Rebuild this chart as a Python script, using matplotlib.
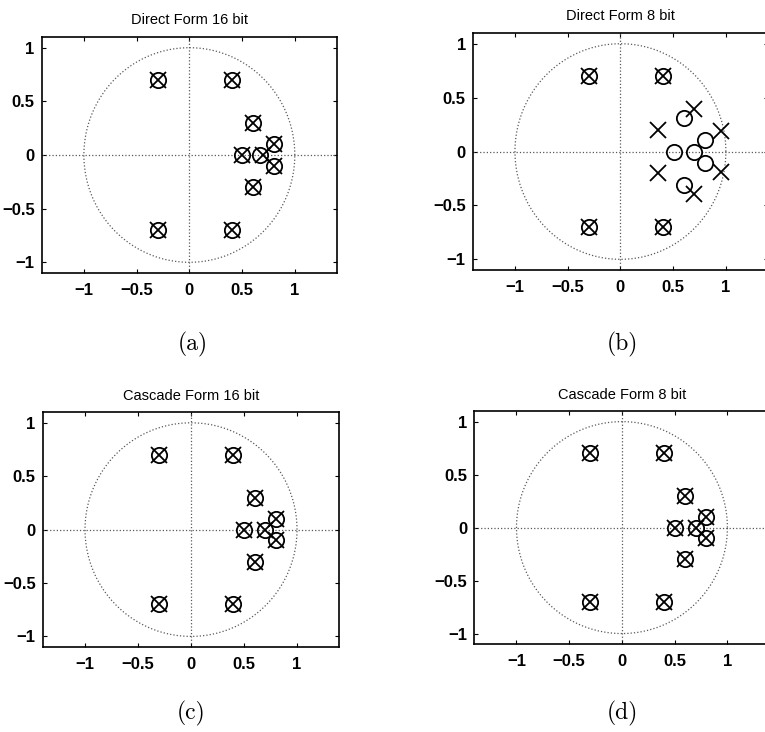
import numpy as np
import matplotlib.pyplot as plt

# zeros / poles (upper half; lower half mirrored)
pair_x = [-0.3, 0.4, 0.6, 0.8]
pair_y = [0.7, 0.7, 0.3, 0.1]
real_pts = [0.5, 0.7]

# direct form 8 bit: poles moved
d8_zero_x = [-0.3, 0.4, 0.6, 0.8]
d8_zero_y = [0.7, 0.7, 0.31, 0.11]
d8_zero_real = [0.505, 0.7]
d8_pole_x = [-0.3, 0.4, 0.36, 0.70, 0.95]
d8_pole_y = [0.7, 0.7, 0.20, 0.39, 0.19]

titles = ['Direct Form 16 bit', 'Direct Form 8 bit',
          'Cascade Form 16 bit', 'Cascade Form 8 bit']
letters = ['(a)', '(b)', '(c)', '(d)']
ticks = [-1, -0.5, 0, 0.5, 1]
tick_labels = ['\u22121', '\u22120.5', '0', '0.5', '1']

plt.rcParams['font.family'] = ['Liberation Sans', 'DejaVu Sans']


def mirror(xs, ys, real):
    x = list(xs) + list(xs) + list(real)
    y = list(ys) + [-v for v in ys] + [0] * len(real)
    return np.array(x), np.array(y)


def draw(ax, zx, zy, px, py, title):
    t = np.linspace(0, 2 * np.pi, 400)
    ax.plot(np.cos(t), np.sin(t), ':', color='0.35', lw=0.9)
    ax.plot([-1.4, 1.4], [0, 0], ':', color='0.35', lw=0.9)
    ax.plot([0, 0], [-1.1, 1.1], ':', color='0.35', lw=0.9)
    ax.plot(zx, zy, 'o', ms=11, mfc='none', mec='black', mew=1.3)
    ax.plot(px, py, 'x', ms=11, color='black', mew=1.3)
    ax.set_xlim(-1.4, 1.4)
    ax.set_ylim(-1.1, 1.1)
    ax.set_xticks(ticks)
    ax.set_xticklabels(tick_labels)
    ax.set_yticks(ticks)
    ax.set_yticklabels(tick_labels)
    ax.tick_params(direction='in', top=True, right=True, length=3,
                   labelsize=12, pad=5)
    ax.tick_params(axis='x', pad=7)
    for lab in ax.get_xticklabels() + ax.get_yticklabels():
        lab.set_fontweight('bold')
    for s in ax.spines.values():
        s.set_linewidth(1.2)
    ax.set_title(title, fontsize=10.5, pad=9)


fig = plt.figure(figsize=(7.65, 7.32), dpi=100)
pos = [[0.0545, 0.627, 0.386, 0.3225],
       [0.618, 0.631, 0.386, 0.324],
       [0.0557, 0.116, 0.388, 0.321],
       [0.620, 0.120, 0.386, 0.3185]]
axes = [fig.add_axes(p) for p in pos]

x16, y16 = mirror(pair_x, pair_y, real_pts)
zx, zy = mirror(pair_x, pair_y, [0.67])
zx = np.append(zx, 0.5)
zy = np.append(zy, 0)
draw(axes[0], zx, zy, x16, y16, titles[0])

z8x, z8y = mirror(d8_zero_x, d8_zero_y, d8_zero_real)
p8x, p8y = mirror(d8_pole_x, d8_pole_y, [])
draw(axes[1], z8x, z8y, p8x, p8y, titles[1])

draw(axes[2], x16, y16, x16, y16, titles[2])
draw(axes[3], x16, y16, x16, y16, titles[3])

label_xy = [(193, 344), (622, 344), (191, 713), (622, 713)]
for (lx, ly), s in zip(label_xy, letters):
    fig.text(lx / 765, 1 - ly / 732, s, ha='center', va='center',
             fontsize=17, family=['cmr10', 'DejaVu Serif'])

fig.savefig('out.png', dpi=100)
